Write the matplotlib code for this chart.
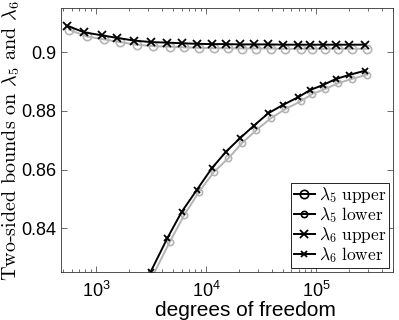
import matplotlib
matplotlib.use("Agg")
import matplotlib.pyplot as plt
from matplotlib.lines import Line2D
from matplotlib.ticker import LogLocator, FixedLocator, FixedFormatter

# ---- data ----
dof6 = [541, 783, 1127, 1562, 2229, 3143, 4449, 6013, 8230, 11265, 15200,
        20380, 27320, 36850, 49800, 69050, 88200, 115100, 152000, 200800, 279000]
dof5 = [570, 825, 1188, 1646, 2349, 3313, 4689, 6338, 8674, 11873, 16021,
        21480, 28795, 38840, 52490, 72780, 92960, 121300, 160200, 211600, 294100]

lam5_upper = [0.9077, 0.9054, 0.9044, 0.9035, 0.9026, 0.9021, 0.9019, 0.9017,
              0.9015, 0.9014, 0.9014, 0.9013, 0.9013, 0.9013, 0.9012, 0.9012,
              0.9012, 0.9012, 0.9012, 0.9012, 0.9012]
lam5_lower = [0.737, 0.759, 0.779, 0.796, 0.811, 0.8241, 0.8354, 0.8445,
              0.8525, 0.8593, 0.8639, 0.8692, 0.8735, 0.8775, 0.8806, 0.8833,
              0.8858, 0.8875, 0.8895, 0.8909, 0.8924]
lam6_upper = [0.9091, 0.9068, 0.9058, 0.9049, 0.9040, 0.9035, 0.9033, 0.9031,
              0.9029, 0.9028, 0.9028, 0.9027, 0.9027, 0.9027, 0.9026, 0.9026,
              0.9026, 0.9026, 0.9026, 0.9026, 0.9026]
lam6_lower = [0.738, 0.760, 0.780, 0.797, 0.812, 0.8252, 0.8366, 0.8456,
              0.8530, 0.8604, 0.8661, 0.8707, 0.8750, 0.8792, 0.8820, 0.8847,
              0.8871, 0.8888, 0.8909, 0.8923, 0.8937]

yticks = [0.84, 0.86, 0.88, 0.9]
ytick_labels = ["0.84", "0.86", "0.88", "0.9"]
legend_labels = [r"$\lambda_5\ \mathrm{upper}$", r"$\lambda_5\ \mathrm{lower}$",
                 r"$\lambda_6\ \mathrm{upper}$", r"$\lambda_6\ \mathrm{lower}$"]

plt.rcParams["font.family"] = ["Liberation Sans", "DejaVu Sans"]
plt.rcParams["mathtext.fontset"] = "cm"

fig = plt.figure(figsize=(3.99, 3.2), dpi=100)
ax = fig.add_axes([0.1529, 0.1491, 0.9842 - 0.1529, 0.974 - 0.1491])

gray = "#b4b4b4"
lw = 1.4
ax.plot(dof5, lam5_upper, color=gray, lw=lw, marker="o", ms=6.0, mfc="none", mec=gray, mew=1.2)
ax.plot(dof5, lam5_lower, color=gray, lw=lw, marker="o", ms=4.5, mfc="none", mec=gray, mew=1.2)
ax.plot(dof6, lam6_upper, color="black", lw=lw, marker="x", ms=6.0, mew=1.3)
ax.plot(dof6, lam6_lower, color="black", lw=lw, marker="x", ms=4.3, mew=1.3)

ax.set_xscale("log")
ax.set_xlim(480, 5.0e5)
ax.set_ylim(0.825, 0.915)
ax.yaxis.set_major_locator(FixedLocator(yticks))
ax.yaxis.set_major_formatter(FixedFormatter(ytick_labels))
ax.xaxis.set_major_locator(LogLocator(base=10, numticks=10))
ax.xaxis.set_minor_locator(LogLocator(base=10, subs=range(2, 10), numticks=20))

for s in ax.spines.values():
    s.set_linewidth(0.6)
    s.set_color("#333333")
ax.tick_params(which="both", direction="in", top=True, right=True, colors="#333333",
               labelcolor="black", labelsize=13, width=0.5)
ax.tick_params(which="major", length=4)
ax.tick_params(which="minor", length=2)
ax.tick_params(axis="x", pad=6)

ax.set_xlabel("degrees of freedom", fontsize=15, labelpad=0)
ax.xaxis.label.set_x((245 - 61) / 331.7)
fig.text(11.5 / 399, 1 - 141 / 320, r"Two-sided bounds on $\lambda_5$ and $\lambda_6$",
         fontsize=14.5, family="cmr10", rotation=90, ha="center", va="center")

handles = [
    Line2D([], [], color="black", lw=lw, marker="o", ms=6.0, mfc="none", mew=1.2),
    Line2D([], [], color="black", lw=lw, marker="o", ms=4.5, mfc="none", mew=1.2),
    Line2D([], [], color="black", lw=lw, marker="x", ms=6.0, mew=1.3),
    Line2D([], [], color="black", lw=lw, marker="x", ms=4.3, mew=1.3),
]
leg = ax.legend(handles, legend_labels, loc="lower right",
                bbox_to_anchor=(389 / 399, 1 - 268 / 320), bbox_transform=fig.transFigure,
                fontsize=12.5, frameon=True, fancybox=False, framealpha=1,
                edgecolor="black", handlelength=1.2, handletextpad=0.25,
                labelspacing=0.0, borderpad=0.15, borderaxespad=0)
leg.get_frame().set_linewidth(0.6)

fig.savefig("out.png", dpi=100)
